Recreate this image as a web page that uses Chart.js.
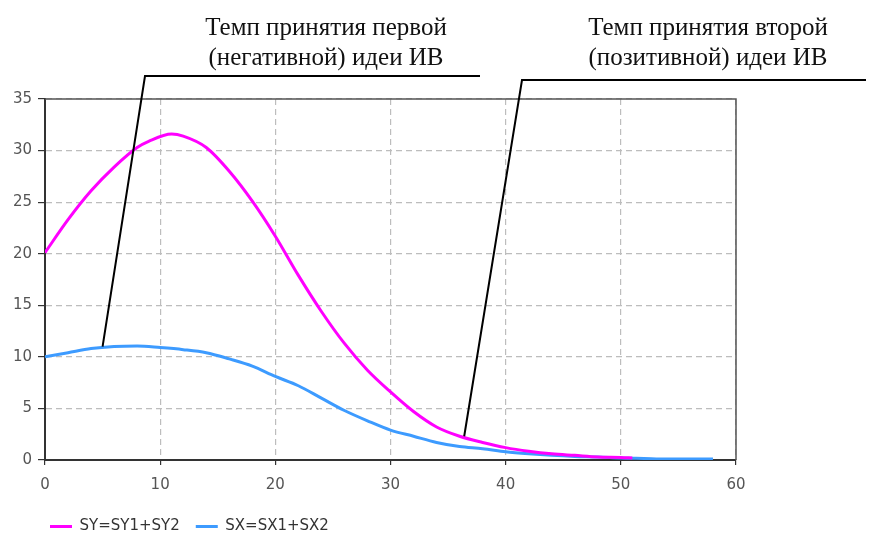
<!DOCTYPE html>
<html><head><meta charset="utf-8">
<script src="https://cdn.jsdelivr.net/npm/chart.js@4"></script>
<style>html,body{margin:0;padding:0;background:#fff}#wrap{width:869px;height:533px}</style>
</head><body><div id="wrap"><canvas id="c" width="869" height="533"></canvas></div>
<script>
const syX = [0,2,4,6,8,9,11,12,14,16,18,20,22,24,26,28,30,32,34,36,38,40,42,44,46,48,50,51];
const syY = [20.1,23.3,26.1,28.4,30.3,30.9,31.6,31.4,30.3,28.0,25.1,21.7,17.9,14.4,11.3,8.7,6.6,4.7,3.2,2.3,1.7,1.2,0.85,0.6,0.45,0.3,0.25,0.2];
const sxX = [0,2,4,6,8,10,12,14,16,18,20,22,24,26,28,30,32,34,36,38,40,42,44,46,48,50,52,54,56,58];
const sxY = [10,10.4,10.8,11.0,11.05,10.9,10.7,10.4,9.8,9.1,8.1,7.2,6.0,4.8,3.8,2.9,2.3,1.7,1.3,1.1,0.8,0.6,0.45,0.35,0.3,0.2,0.15,0.1,0.1,0.1];
const seriesNames = ['SY=SY1+SY2','SX=SX1+SX2'];
const xTicks = [0,10,20,30,40,50,60];
const yTicks = [0,5,10,15,20,25,30,35];
const notes = [
  {lines:['Темп принятия первой','(негативной) идеи ИВ'], at:[5,11]},
  {lines:['Темп принятия второй','(позитивной) идеи ИВ'], at:[36.4,2.3]}
];

const toPts = (xs, ys) => xs.map((x,i)=>({x, y: ys[i]}));

const frame = {
  id:'frame',
  afterLayout(chart){
    const lg = chart.legend;
    if (lg) { lg.left += 34; lg.right += 34; lg.top += 11; lg.bottom += 11; }
  },
  afterDatasetsDraw(chart){
    const {ctx, chartArea:a} = chart;
    ctx.save();
    ctx.strokeStyle = '#555'; ctx.lineWidth = 1.5;
    ctx.beginPath();
    ctx.moveTo(a.left, a.top); ctx.lineTo(a.right, a.top); ctx.lineTo(a.right, a.bottom);
    ctx.stroke();
    ctx.restore();
  },
  afterDraw(chart){
    const {ctx, scales:{x, y}} = chart;
    const layout = [
      {tx:326, ty:[35,65], top:[145,76], end:480},
      {tx:708, ty:[35,65], top:[522,80], end:866}
    ];
    ctx.save();
    ctx.fillStyle = '#111';
    ctx.font = '25px "Liberation Serif", serif';
    ctx.textAlign = 'center';
    ctx.textBaseline = 'alphabetic';
    notes.forEach((n,i)=>{
      const L = layout[i];
      n.lines.forEach((t,j)=> ctx.fillText(t, L.tx, L.ty[j]));
      ctx.strokeStyle = '#000'; ctx.lineWidth = 2;
      ctx.beginPath();
      ctx.moveTo(x.getPixelForValue(n.at[0]), y.getPixelForValue(n.at[1]));
      ctx.lineTo(L.top[0], L.top[1]);
      ctx.lineTo(L.end, L.top[1]);
      ctx.stroke();
    });
    ctx.restore();
  }
};

const tickFont = {family:'"DejaVu Sans", sans-serif', size:15};

new Chart(document.getElementById('c'), {
  type:'line',
  data:{datasets:[
    {label:seriesNames[0], data:toPts(syX, syY), borderColor:'#ff00ff', backgroundColor:'#ff00ff', borderWidth:3, pointRadius:0, cubicInterpolationMode:'monotone'},
    {label:seriesNames[1], data:toPts(sxX, sxY), borderColor:'#3d9bff', backgroundColor:'#3d9bff', borderWidth:3, pointRadius:0, cubicInterpolationMode:'monotone'}
  ]},
  options:{
    responsive:false, animation:false, devicePixelRatio:1,
    layout:{padding:{top:99, right:133, left:0, bottom:0}},
    plugins:{
      tooltip:{enabled:false},
      legend:{position:'bottom', align:'start',
        labels:{usePointStyle:true, pointStyle:'line', pointStyleWidth:22, boxWidth:22, padding:16, color:'#333', font:{family:'"DejaVu Sans", sans-serif', size:15}}}
    },
    scales:{
      x:{type:'linear', min:0, max:60,
        afterBuildTicks(s){ s.ticks = xTicks.map(v=>({value:v})); },
        afterFit(s){ s.height = 32; },
        border:{color:'#333', width:2, dash:[6,4]},
        grid:{color:'#bdbdbd', tickLength:5, tickColor:'#333', tickBorderDash:[], lineWidth:1.2},
        ticks:{color:'#555', padding:11, maxRotation:0, font:tickFont}
      },
      y:{min:0, max:35,
        afterBuildTicks(s){ s.ticks = yTicks.map(v=>({value:v})); },
        afterFit(s){ s.width = 45; },
        border:{color:'#333', width:2, dash:[6,4]},
        grid:{color:'#bdbdbd', tickLength:7, tickColor:'#333', tickBorderDash:[], lineWidth:1.2},
        ticks:{color:'#555', padding:6, font:tickFont}
      }
    }
  },
  plugins:[frame]
});
</script></body></html>
